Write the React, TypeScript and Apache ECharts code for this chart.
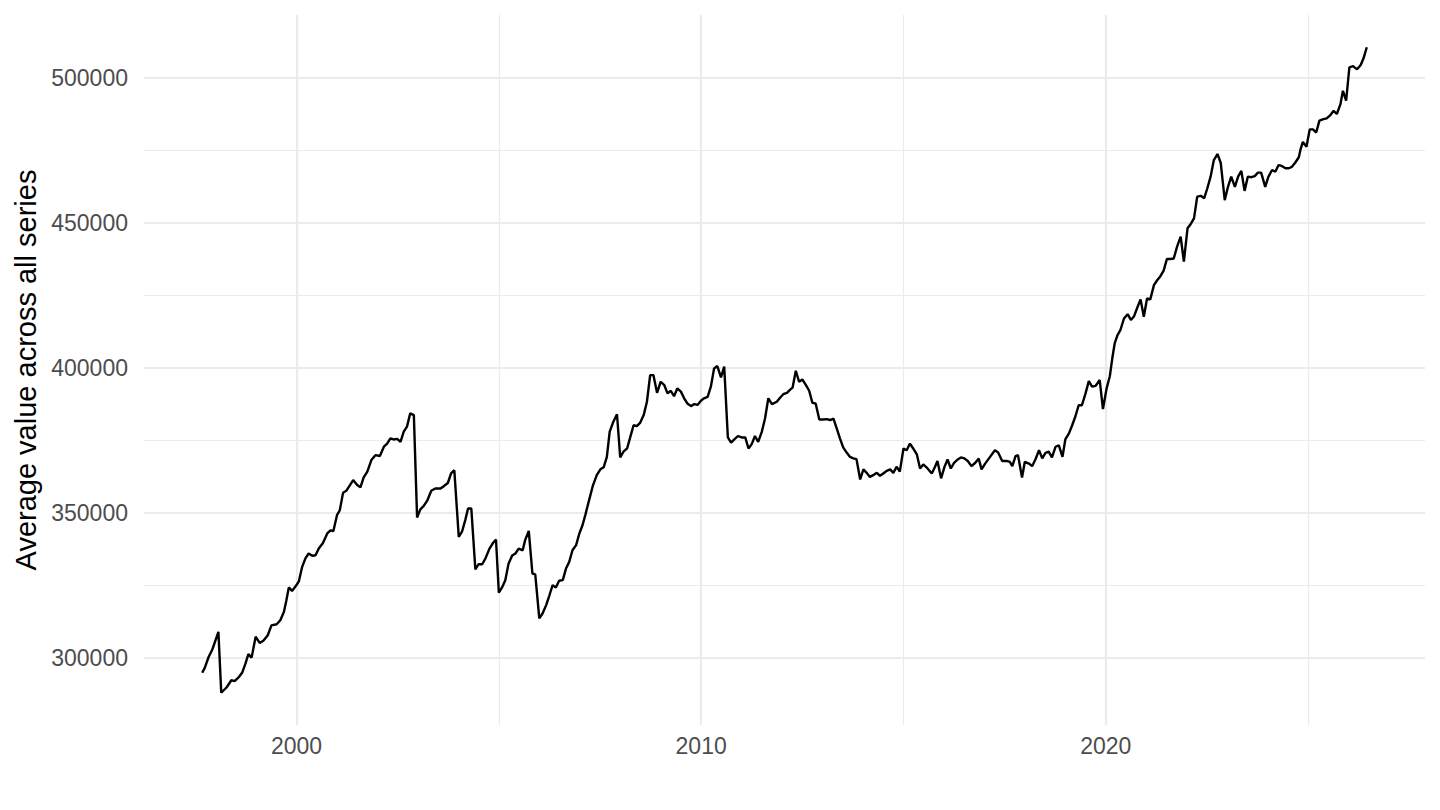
import React, { useEffect, useRef } from "react";
import * as echarts from "echarts";

// Decimal-year positions of each observation
const dates: number[] = [
  1997.67, 1997.73, 1997.83, 1997.92, 1998.07, 1998.14, 1998.27, 1998.39, 1998.47, 1998.58,
  1998.66, 1998.74, 1998.81, 1998.89, 1998.99, 1999.09, 1999.18, 1999.29, 1999.38, 1999.51,
  1999.60, 1999.69, 1999.75, 1999.81, 1999.89, 2000.00, 2000.06, 2000.14, 2000.22, 2000.30,
  2000.39, 2000.47, 2000.55, 2000.65, 2000.76, 2000.84, 2000.91, 2001.00, 2001.07, 2001.15,
  2001.23, 2001.40, 2001.50, 2001.58, 2001.66, 2001.75, 2001.85, 2001.95, 2002.06, 2002.16,
  2002.24, 2002.32, 2002.40, 2002.49,
  2002.57, 2002.65, 2002.73, 2002.81, 2002.90, 2002.98, 2003.06, 2003.14, 2003.23, 2003.33,
  2003.43, 2003.56, 2003.64, 2003.74, 2003.82, 2003.90, 2004.01, 2004.09, 2004.17, 2004.24,
  2004.32, 2004.42, 2004.50, 2004.59, 2004.67, 2004.77, 2004.86, 2004.93, 2005.00, 2005.08,
  2005.16, 2005.24, 2005.33, 2005.41, 2005.49, 2005.59, 2005.65, 2005.74, 2005.83, 2005.90,
  2006.00, 2006.08, 2006.17, 2006.25, 2006.33, 2006.41, 2006.49, 2006.58, 2006.66, 2006.74,
  2006.82, 2006.91, 2006.99, 2007.07, 2007.14,
  2007.22, 2007.32, 2007.42, 2007.51, 2007.59, 2007.67, 2007.74, 2007.83, 2007.92, 2008.00,
  2008.08, 2008.17, 2008.25, 2008.33, 2008.41, 2008.49, 2008.58, 2008.66, 2008.74, 2008.82,
  2008.91, 2009.00, 2009.09, 2009.17, 2009.25, 2009.33, 2009.41, 2009.50, 2009.58, 2009.66,
  2009.75, 2009.83, 2009.91, 2009.99, 2010.07, 2010.16, 2010.24, 2010.32, 2010.40, 2010.49,
  2010.57, 2010.66, 2010.74, 2010.82, 2010.91, 2011.00, 2011.09, 2011.17, 2011.25, 2011.33,
  2011.41, 2011.50, 2011.58, 2011.66, 2011.75, 2011.87, 2011.95,
  2012.03, 2012.12, 2012.20, 2012.26, 2012.34, 2012.42, 2012.50, 2012.59, 2012.67, 2012.75,
  2012.83, 2012.92, 2013.02, 2013.10, 2013.19, 2013.27, 2013.35, 2013.43, 2013.51, 2013.60,
  2013.68, 2013.76, 2013.84, 2013.93, 2014.01, 2014.09, 2014.17, 2014.25, 2014.34, 2014.42,
  2014.50, 2014.59, 2014.67, 2014.75, 2014.83, 2014.91, 2015.00, 2015.08, 2015.16, 2015.24,
  2015.33, 2015.41, 2015.49, 2015.57, 2015.70, 2015.78, 2015.84, 2015.93, 2016.01, 2016.09,
  2016.17, 2016.25, 2016.34, 2016.42, 2016.50, 2016.59, 2016.68, 2016.77, 2016.86,
  2016.93, 2017.01, 2017.14, 2017.26, 2017.34, 2017.44, 2017.55, 2017.63, 2017.69, 2017.77,
  2017.83, 2017.93, 2018.00, 2018.10, 2018.18, 2018.26, 2018.35, 2018.43, 2018.51, 2018.59,
  2018.67, 2018.76, 2018.84, 2018.93, 2019.00, 2019.09, 2019.17, 2019.25, 2019.33, 2019.41,
  2019.50, 2019.58, 2019.66, 2019.75, 2019.85, 2019.93, 2020.02, 2020.10, 2020.16, 2020.22,
  2020.29, 2020.36, 2020.45, 2020.54, 2020.62, 2020.70, 2020.78, 2020.86, 2020.94, 2021.02,
  2021.10, 2021.19, 2021.27, 2021.35, 2021.43, 2021.51, 2021.60, 2021.68,
  2021.76, 2021.85, 2021.93, 2022.02, 2022.10, 2022.18, 2022.26, 2022.35, 2022.43, 2022.51,
  2022.59, 2022.67, 2022.76, 2022.84, 2022.94, 2023.02, 2023.10, 2023.19, 2023.27, 2023.35,
  2023.43, 2023.51, 2023.60, 2023.68, 2023.76, 2023.84, 2023.94, 2024.02, 2024.11, 2024.19,
  2024.27, 2024.35, 2024.44, 2024.52, 2024.60, 2024.68, 2024.77, 2024.81, 2024.87, 2024.96,
  2025.04, 2025.12, 2025.20, 2025.28, 2025.38, 2025.46, 2025.55, 2025.63, 2025.71, 2025.80,
  2025.86, 2025.94, 2026.02, 2026.11, 2026.21, 2026.30, 2026.37, 2026.45,
];

// Average value across all series at each date
const values: number[] = [
  295000, 296600, 300500, 303000, 309100, 288100, 289900, 292400, 292100, 293600,
  295100, 298200, 301400, 300200, 307400, 305300, 306000, 307900, 311300, 311700,
  313100, 316000, 320000, 324400, 323200, 325200, 326600, 331500, 334400, 336100,
  335300, 335500, 337800, 339600, 343000, 344100, 343800, 349300, 351000, 357000,
  357700, 361400, 359700, 358900, 362300, 364300, 368300, 370000, 369700, 372900,
  374000, 375800, 375400, 375600,
  374600, 378100, 379800, 384400, 383800, 348500, 351300, 352400, 354300, 357700,
  358500, 358500, 359300, 360400, 363700, 364800, 341800, 343600, 347600, 351600,
  351600, 330600, 332400, 332400, 334400, 337800, 339800, 340900, 322600, 324400,
  326900, 332600, 335400, 336100, 337800, 337200, 340700, 343900, 329200, 328900,
  313700, 315400, 318300, 321700, 325200, 324400, 326700, 326900, 330900, 333200,
  337200, 339000, 343000, 345900, 349500,
  353900, 359300, 363100, 365100, 365800, 369400, 378100, 381500, 384100, 369200,
  371200, 372300, 376300, 380300, 380000, 381100, 383800, 388400, 397600, 397600,
  391500, 395300, 394100, 391300, 392200, 390300, 393000, 391900, 389600, 387800,
  386900, 387600, 387300, 388700, 389600, 390100, 393600, 399900, 400700, 396800,
  400500, 376100, 374300, 375400, 376600, 376100, 376100, 372300, 373800, 376600,
  374600, 378100, 382700, 389600, 387600, 388400, 389800,
  391000, 391500, 392600, 393300, 399100, 395300, 396100, 394100, 392200, 388000,
  387800, 382300, 382300, 382400, 382100, 382600, 379200, 375800, 372700, 370800,
  369400, 368900, 368600, 361600, 365100, 363900, 362500, 363100, 363900, 362900,
  363700, 364600, 365100, 363900, 366000, 364300, 372300, 371700, 374000, 372300,
  370300, 365400, 366800, 365800, 363700, 366000, 368000, 362000, 365800, 368500,
  365400, 367300, 368500, 369200, 368900, 368000, 366200, 367300, 368800,
  365100, 366900, 369400, 371700, 370900, 368000, 368000, 367700, 366200, 369700,
  370000, 362300, 367700, 367100, 366200, 368500, 371700, 368900, 370800, 371200,
  369200, 372900, 373400, 369400, 375400, 377500, 380300, 383400, 387200, 387200,
  391300, 395500, 393600, 393900, 395900, 385900, 393000, 397200, 403300, 408500,
  411400, 413100, 417100, 418600, 416600, 417900, 420900, 423700, 417700, 424000,
  423700, 428600, 430300, 431700, 433600, 437600, 437600, 437800,
  441800, 445300, 436700, 448200, 449700, 451600, 459100, 459400, 458500, 462000,
  466000, 471700, 473800, 470800, 457900, 462500, 466000, 462500, 466000, 468000,
  461100, 466000, 465800, 466200, 467400, 467400, 462500, 466000, 468300, 467700,
  470000, 469700, 468900, 468900, 469400, 470800, 472700, 475200, 478000, 476300,
  482300, 482300, 481200, 485300, 485800, 486100, 487200, 488700, 487600, 491000,
  495600, 492200, 503700, 504100, 503000, 504500, 506800, 510600,
];

const xMajorTicks: number[] = [2000, 2010, 2020];
const xMinorTicks: number[] = [2005, 2015, 2025];
const yMajorTicks: number[] = [300000, 350000, 400000, 450000, 500000];
const yMinorTicks: number[] = [325000, 375000, 425000, 475000];

const yTitle = "Average value across all series";

export default function App() {
  const ref = useRef<HTMLDivElement>(null);

  useEffect(() => {
    if (!ref.current) return;
    const chart = echarts.init(ref.current, undefined, { renderer: "svg" });

    const data = dates.map((d, i) => [d, values[i]]);
    const xMin = Math.min(...dates);
    const xMax = Math.max(...dates);
    const yMinD = Math.min(...values);
    const yMaxD = Math.max(...values);
    const xPad = (xMax - xMin) * 0.05;
    const yPad = (yMaxD - yMinD) * 0.05;

    const font = "'Liberation Sans', Arial, Helvetica, sans-serif";
    const gridColor = "#EBEBEB";

    const gridLines = [
      ...xMinorTicks.map((v) => ({ xAxis: v, lineStyle: { color: gridColor, width: 1.2, type: "solid" } })),
      ...yMinorTicks.map((v) => ({ yAxis: v, lineStyle: { color: gridColor, width: 1.2, type: "solid" } })),
      ...xMajorTicks.map((v) => ({ xAxis: v, lineStyle: { color: gridColor, width: 2.2, type: "solid" } })),
      ...yMajorTicks.map((v) => ({ yAxis: v, lineStyle: { color: gridColor, width: 2.2, type: "solid" } })),
    ];

    chart.setOption({
      animation: false,
      backgroundColor: "#FFFFFF",
      grid: { left: 144, right: 15, top: 15, bottom: 85, containLabel: false },
      xAxis: {
        type: "value",
        min: xMin - xPad,
        max: xMax + xPad,
        axisLine: { show: false },
        axisTick: { show: false },
        splitLine: { show: false },
        axisLabel: {
          customValues: xMajorTicks,
          formatter: (v: number) => String(v),
          color: "#4D4D4D",
          fontSize: 23,
          fontFamily: font,
          margin: 9,
        },
      },
      yAxis: {
        type: "value",
        min: yMinD - yPad,
        max: yMaxD + yPad,
        axisLine: { show: false },
        axisTick: { show: false },
        splitLine: { show: false },
        axisLabel: {
          customValues: yMajorTicks,
          formatter: (v: number) => String(v),
          color: "#4D4D4D",
          fontSize: 23,
          fontFamily: font,
          margin: 16,
        },
        name: yTitle,
        nameLocation: "middle",
        nameRotate: 90,
        nameGap: 104,
        nameTextStyle: { color: "#000000", fontSize: 29, fontFamily: font },
      },
      series: [
        {
          type: "line",
          data,
          z: 1,
          silent: true,
          showSymbol: false,
          symbol: "none",
          lineStyle: { opacity: 0 },
          markLine: {
            silent: true,
            z: 1,
            symbol: ["none", "none"],
            label: { show: false },
            animation: false,
            data: gridLines,
          },
        },
        {
          type: "line",
          data,
          z: 5,
          silent: true,
          showSymbol: false,
          symbol: "none",
          lineStyle: { color: "#000000", width: 2.4 },
        },
      ],
    });

    return () => chart.dispose();
  }, []);

  return (
    <div
      ref={ref}
      style={{ position: "fixed", left: 0, top: 0, width: 1440, height: 810, background: "#fff" }}
    />
  );
}
